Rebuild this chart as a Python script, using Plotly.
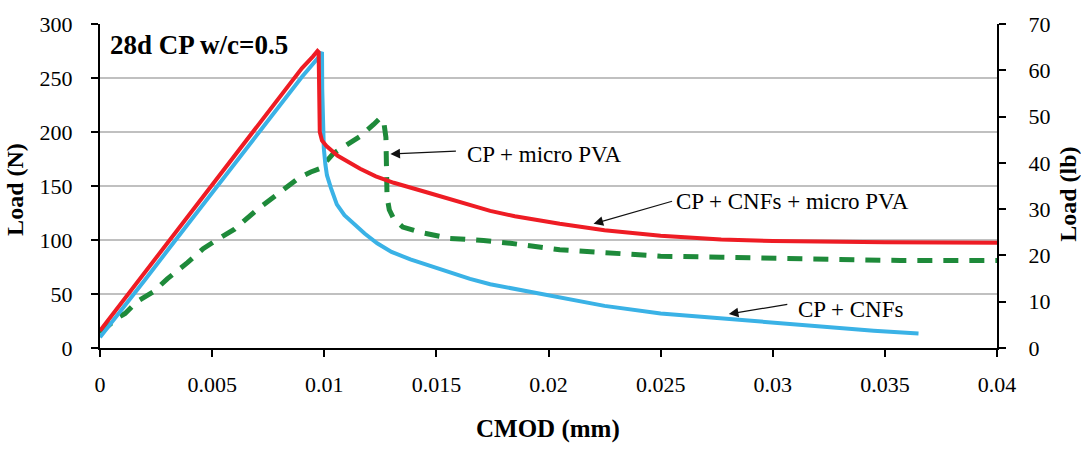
import plotly.graph_objects as go

# ---- data ----
x_ticks = [0, 0.005, 0.01, 0.015, 0.02, 0.025, 0.03, 0.035, 0.04]
x_tick_labels = ["0", "0.005", "0.01", "0.015", "0.02", "0.025", "0.03", "0.035", "0.04"]

cmod_pva = [0, 0.0008, 0.00112, 0.00165, 0.00237, 0.003, 0.0039, 0.0046, 0.0052, 0.006,
            0.007, 0.0079, 0.0089, 0.0094, 0.0098, 0.0104, 0.0110, 0.0116, 0.0122, 0.0125,
            0.01265, 0.01275, 0.0128, 0.0129, 0.0131, 0.0135, 0.0143, 0.0156, 0.0171, 0.0183,
            0.0205, 0.025, 0.0277, 0.03125, 0.0357, 0.04]
load_pva = [14, 28, 32, 43, 52, 64, 79, 92, 100, 110,
            128, 142, 158, 163, 166, 180, 188, 196, 207, 213,
            210, 195, 140, 128, 119.5, 112, 107, 101.5, 99.5, 97,
            91, 85, 84, 82.6, 81, 81]

cmod_cnf = [0, 0.001, 0.002, 0.003, 0.004, 0.005, 0.006, 0.007, 0.008, 0.009, 0.0097,
            0.0099, 0.00991, 0.00993, 0.00998, 0.01005, 0.01012, 0.0103, 0.01056, 0.0109,
            0.0113, 0.0118, 0.01236, 0.013, 0.01384, 0.0147, 0.0156, 0.0165, 0.0174, 0.019,
            0.0205, 0.0225, 0.025, 0.0277, 0.03125, 0.0345, 0.0365]
load_cnf = [10, 36, 63, 90, 117, 144, 171, 198, 224, 251, 268,
            274, 240, 200, 185, 170, 160, 148, 133, 123,
            115, 106, 97, 89, 82, 76, 70, 64, 59, 53,
            47, 39, 32, 27.5, 21, 16, 13.5]

cmod_cnf_pva = [0, 0.001, 0.002, 0.003, 0.004, 0.005, 0.006, 0.007, 0.008, 0.009, 0.0095,
                0.0097, 0.00975, 0.0098, 0.0099, 0.0101, 0.0106, 0.0111, 0.0116, 0.0123,
                0.0131, 0.0146, 0.01607, 0.0174, 0.0185, 0.0205, 0.0225, 0.025, 0.0277,
                0.03, 0.035, 0.04]
load_cnf_pva = [16, 43, 70, 97, 124, 151, 178, 205, 232, 259, 270,
                275, 274, 200, 192, 187, 178, 172, 166, 159,
                153, 144, 135, 127, 122, 115, 109, 104, 100.5,
                99, 98, 97.5]

FONT = "Liberation Serif"

fig = go.Figure()
fig.add_trace(go.Scatter(x=cmod_pva, y=load_pva, mode="lines", name="CP + micro PVA",
                         line=dict(color="#1E8A3A", width=5, dash="15px,11px")))
fig.add_trace(go.Scatter(x=cmod_cnf, y=load_cnf, mode="lines", name="CP + CNFs",
                         line=dict(color="#3AB2E6", width=4)))
fig.add_trace(go.Scatter(x=cmod_cnf_pva, y=load_cnf_pva, mode="lines", name="CP + CNFs + micro PVA",
                         line=dict(color="#EE1C24", width=4)))
fig.add_trace(go.Scatter(x=[None], y=[None], yaxis="y2", showlegend=False, hoverinfo="skip"))

axis_common = dict(showline=True, linecolor="black", linewidth=2, ticks="outside",
                   ticklen=7, tickwidth=1.5, tickcolor="black", zeroline=False,
                   tickfont=dict(family=FONT, size=22, color="black"))

fig.update_layout(
    width=1081, height=449,
    margin=dict(l=100, r=84, t=14, b=101),
    plot_bgcolor="white", paper_bgcolor="white",
    showlegend=False,
    font=dict(family=FONT),
    xaxis=dict(range=[0, 0.04], tickvals=x_ticks, ticktext=x_tick_labels, showgrid=False,
               ticklabelstandoff=9, **axis_common),
    yaxis=dict(range=[0, 300], dtick=50, showgrid=True, gridcolor="#C0C0C0", gridwidth=1.5,
               ticklabelstandoff=14, **axis_common),
    yaxis2=dict(range=[0, 70], dtick=10, overlaying="y", side="right", showgrid=False,
                ticklabelstandoff=18, **axis_common),
)

ann = []
ann.append(dict(text="<b>Load (N)</b>", xref="paper", yref="paper", x=-0.0948, y=0.491,
                xanchor="center", yanchor="middle",
                textangle=-90, showarrow=False, font=dict(family=FONT, size=24, color="black")))
ann.append(dict(text="<b>Load (lb)</b>", xref="paper", yref="paper", x=1.0792, y=0.473,
                xanchor="center", yanchor="middle",
                textangle=-90, showarrow=False, font=dict(family=FONT, size=24, color="black")))
ann.append(dict(text="<b>CMOD (mm)</b>", xref="paper", yref="paper", x=0.4994, y=-0.2515,
                xanchor="center", yanchor="middle",
                showarrow=False, font=dict(family=FONT, size=25, color="black")))
ann.append(dict(text="<b>28d CP w/c=0.5</b>", xref="paper", yref="paper", x=0.0089, y=0.934,
                xanchor="left", yanchor="middle", showarrow=False,
                font=dict(family=FONT, size=27, color="black")))

labels = [
    ("CP + micro PVA", 0.01629, 179.6, 0.01295, 179.6, 67, -3),
    ("CP + CNFs + micro PVA", 0.02558, 135.6, 0.02201, 115.0, 80, -23),
    ("CP + CNFs", 0.03103, 35.9, 0.02804, 31.4, 60, -10),
]
for txt, tx, ty, hx, hy, ax, ay in labels:
    ann.append(dict(text=txt, x=tx, y=ty, xref="x", yref="y", xanchor="left", yanchor="middle",
                    showarrow=False, font=dict(family=FONT, size=23, color="black")))
    ann.append(dict(text="", x=hx, y=hy, xref="x", yref="y", ax=ax, ay=ay, showarrow=True,
                    arrowhead=2, arrowsize=1.6, arrowwidth=1.2, arrowcolor="#111111"))

fig.update_layout(annotations=ann)
fig.write_html("out.html")
